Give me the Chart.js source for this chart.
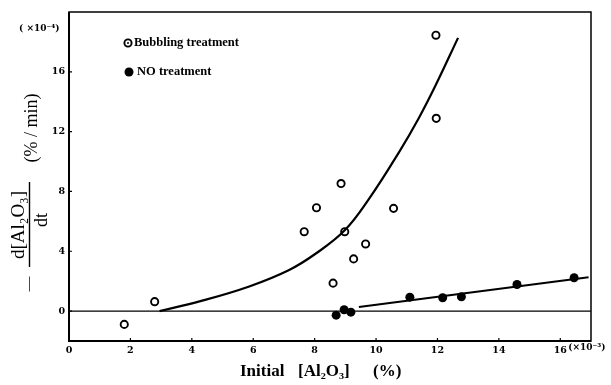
<!DOCTYPE html>
<html>
<head>
<meta charset="utf-8">
<script src="https://cdn.jsdelivr.net/npm/chart.js@4.4.0/dist/chart.umd.min.js"></script>
<style>
    html, body { margin: 0; padding: 0; background: #fff; }
    canvas { display: block; }
</style>
</head>
<body>
<canvas id="chart" width="611" height="385"></canvas>
<script>
// tick values along the axes
var xTicks = [0, 2, 4, 6, 8, 10, 12, 14, 16];
var yTicks = [0, 4, 8, 12, 16];

// Bubbling treatment (open circles)
var bubblingX = [1.80, 2.79, 7.66, 8.06, 8.86, 8.98, 8.60, 9.27, 9.66, 10.57, 11.95, 11.96];
var bubblingY = [-0.89, 0.63, 5.31, 6.91, 8.53, 5.31, 1.87, 3.49, 4.49, 6.87, 18.45, 12.89];

// NO treatment (filled circles)
var noX = [8.70, 8.96, 9.18, 11.10, 12.17, 12.78, 14.59, 16.45];
var noY = [-0.27, 0.09, -0.07, 0.93, 0.89, 0.96, 1.78, 2.23];

// fitted curve through bubbling data
var curveX = [2.95, 4.25, 5.87, 7.17, 8.04, 8.98, 9.77, 10.74, 11.39, 11.94, 12.67];
var curveY = [0, 0.65, 1.65, 2.75, 3.85, 5.4, 7.5, 10.6, 12.9, 15.1, 18.27];

// straight line through NO data
var noLineX = [9.44, 16.92];
var noLineY = [0.27, 2.27];

// zero reference line
var zeroX = [0, 17];
var zeroY = [0, 0];

function toPoints(xs, ys) {
    var pts = [];
    for (var i = 0; i < xs.length; i++) {
        pts.push({ x: xs[i], y: ys[i] });
    }
    return pts;
}

var tickFont = { family: "DejaVu Serif", size: 9.5, weight: "bold" };

var decorPlugin = {
    id: "decor",
    afterDraw: function(chart) {
        var ctx = chart.ctx;
        var a = chart.chartArea;
        var xs = chart.scales.x;
        var ys = chart.scales.y;

        ctx.save();
        ctx.strokeStyle = "#000";
        ctx.fillStyle = "#000";

        // frame
        ctx.lineWidth = 1.5;
        ctx.strokeRect(a.left, a.top, a.right - a.left, a.bottom - a.top);
        ctx.lineWidth = 2;
        ctx.beginPath();
        ctx.moveTo(a.left, a.top);
        ctx.lineTo(a.left, a.bottom);
        ctx.lineTo(a.right, a.bottom);
        ctx.stroke();

        // inward tick marks
        ctx.lineWidth = 1.2;
        ctx.beginPath();
        xTicks.forEach(function(v) {
            var px = xs.getPixelForValue(v);
            ctx.moveTo(px, a.bottom);
            ctx.lineTo(px, a.bottom - 3);
        });
        yTicks.forEach(function(v) {
            var py = ys.getPixelForValue(v);
            ctx.moveTo(a.left, py);
            ctx.lineTo(a.left + 3, py);
        });
        ctx.stroke();

        // axis multipliers
        ctx.font = "bold 9px 'DejaVu Serif'";
        ctx.textBaseline = "middle";
        ctx.textAlign = "left";
        ctx.fillText("( \u00d710\u207b\u2074)", 19, 29);
        ctx.fillText("(\u00d710\u207b\u00b3)", xs.getPixelForValue(16) + 8, 348);

        // legend
        ctx.lineWidth = 1.9;
        ctx.fillStyle = "#fff";
        ctx.beginPath();
        ctx.arc(128, 43, 3.6, 0, Math.PI * 2);
        ctx.fill();
        ctx.stroke();
        ctx.fillStyle = "#000";
        ctx.beginPath();
        ctx.arc(128, 43, 1, 0, Math.PI * 2);
        ctx.fill();
        ctx.beginPath();
        ctx.arc(129, 72, 4.5, 0, Math.PI * 2);
        ctx.fill();

        ctx.font = "bold 12.5px 'Liberation Serif'";
        ctx.fillText("Bubbling treatment", 134, 43);
        ctx.fillText("NO treatment", 137, 72);

        // x title
        ctx.font = "bold 17px 'Liberation Serif'";
        ctx.textAlign = "left";
        ctx.fillText("Initial", 240, 372);
        ctx.fillText("[Al\u2082O\u2083]", 298, 372);
        ctx.fillText("(%)", 373, 372);

        // y title, rotated
        ctx.textAlign = "center";
        function rotText(txt, cx, cy, font) {
            ctx.save();
            ctx.translate(cx, cy);
            ctx.rotate(-Math.PI / 2);
            ctx.font = font;
            ctx.fillText(txt, 0, 0);
            ctx.restore();
        }
        rotText("\u2014", 29, 284, "15px 'Liberation Serif'");
        rotText("d[Al\u2082O\u2083]", 19, 225, "19px 'Liberation Serif'");
        rotText("dt", 42, 220, "18px 'Liberation Serif'");
        rotText("(% / min)", 32, 128, "18px 'Liberation Serif'");
        ctx.lineWidth = 1.4;
        ctx.beginPath();
        ctx.moveTo(29.5, 182);
        ctx.lineTo(29.5, 267);
        ctx.stroke();

        ctx.restore();
    }
};

new Chart(document.getElementById("chart").getContext("2d"), {
    type: "scatter",
    data: {
        datasets: [{
            data: toPoints(zeroX, zeroY),
            showLine: true,
            borderColor: "#000",
            borderWidth: 1.2,
            pointRadius: 0
        }, {
            data: toPoints(curveX, curveY),
            showLine: true,
            tension: 0.4,
            borderColor: "#000",
            borderWidth: 2.2,
            pointRadius: 0
        }, {
            data: toPoints(noLineX, noLineY),
            showLine: true,
            borderColor: "#000",
            borderWidth: 2,
            pointRadius: 0
        }, {
            data: toPoints(bubblingX, bubblingY),
            pointRadius: 3.6,
            borderWidth: 1.9,
            borderColor: "#000",
            backgroundColor: "#fff"
        }, {
            data: toPoints(bubblingX, bubblingY),
            pointRadius: 1,
            borderWidth: 0,
            backgroundColor: "#000"
        }, {
            data: toPoints(noX, noY),
            pointRadius: 4.5,
            borderWidth: 0,
            backgroundColor: "#000"
        }]
    },
    options: {
        responsive: false,
        animation: false,
        layout: { padding: { top: 12, right: 20, left: 0, bottom: 0 } },
        plugins: {
            legend: { display: false },
            tooltip: { enabled: false }
        },
        scales: {
            x: {
                type: "linear",
                min: 0,
                max: 17,
                afterBuildTicks: function(s) {
                    s.ticks = xTicks.map(function(v) { return { value: v }; });
                },
                afterFit: function(s) { s.height = 44; },
                grid: { display: false, drawTicks: false },
                border: { display: false },
                ticks: { padding: 4, color: "#000", font: tickFont, maxRotation: 0, autoSkip: false }
            },
            y: {
                type: "linear",
                min: -2,
                max: 20,
                afterBuildTicks: function(s) {
                    s.ticks = yTicks.map(function(v) { return { value: v }; });
                },
                afterFit: function(s) { s.width = 69; },
                grid: { display: false, drawTicks: false },
                border: { display: false },
                ticks: { padding: 4, color: "#000", font: tickFont, autoSkip: false }
            }
        }
    },
    plugins: [decorPlugin]
});
</script>
</body>
</html>
